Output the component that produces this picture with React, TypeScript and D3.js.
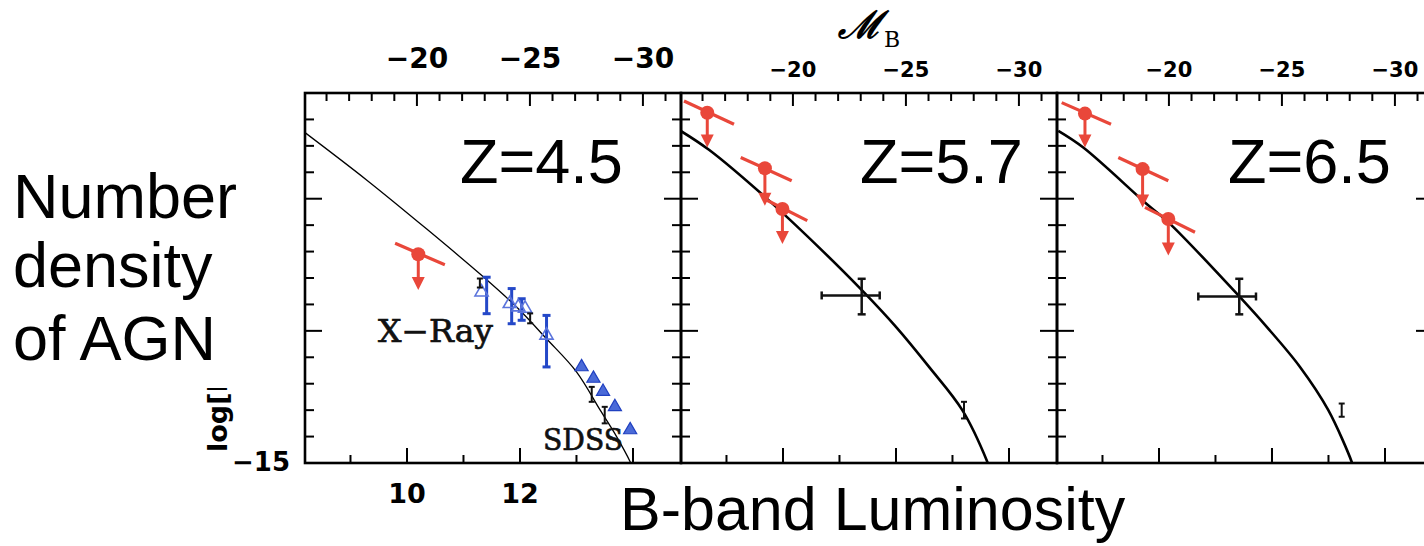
import React from 'react';
import * as d3 from 'd3';

const W = 1424;
const H = 546;
const PANEL_W = 376;
const TOP = 93;
const BOTTOM = 463;
const RED = '#e9473a';
const BLUE = '#2448c8';

// panels: redshift labels
const zLabels = ['Z=4.5', 'Z=5.7', 'Z=6.5'];

// axis ticks (log L along bottom, M_B along top, log phi on the side)
const logLTicks = [9, 10, 11, 12, 13, 14];
const logLLabels = [10, 12];
const mbTicks = d3.range(-16, -32, -1);
const mbLabels = [-20, -25, -30];
const phiTicks = [-15, -14.8, -14.6, -14.4, -14.2, -14, -13.8, -13.6, -13.4, -13.2, -13, -12.8, -12.6, -12.4];

// model curves [logL, logPhi]
const curveZ45 = [[8.195, -12.5], [9.29, -12.86], [10.35, -13.23], [11.32, -13.58], [11.94, -13.82], [12.47, -14.06], [13.0, -14.31], [13.42, -14.6], [13.71, -14.8], [13.95, -14.99], [13.98, -15.02]];
const curveZ57 = [[8.19, -12.487], [8.69, -12.63], [9.69, -12.99], [10.64, -13.37], [11.4, -13.694], [12.0, -13.97], [12.585, -14.273], [13.174, -14.6], [13.616, -14.99], [13.64, -15.02]];
const curveZ65 = [[8.218, -12.487], [8.66, -12.613], [9.783, -13.04], [10.195, -13.19], [11.434, -13.745], [11.907, -13.97], [12.496, -14.273], [12.997, -14.6], [13.41, -14.99], [13.43, -15.02]];
const curves = [curveZ45, curveZ57, curveZ65];

// red upper limits: dot, slanted bar ends, arrow tip
const limitsZ45 = [
  { x: 10.2, y: -13.42, x0: 9.79, y0: -13.337, x1: 10.67, y1: -13.5, tip: -13.69 },
];
const limitsZ57 = [
  { x: 8.66, y: -12.35, x0: 8.248, y0: -12.26, x1: 9.133, y1: -12.436, tip: -12.613 },
  { x: 9.68, y: -12.77, x0: 9.252, y0: -12.688, x1: 10.154, y1: -12.864, tip: -13.053 },
  { x: 9.99, y: -13.078, x0: 9.664, y0: -13.0, x1: 10.43, y1: -13.166, tip: -13.342 },
];
const limitsZ65 = [
  { x: 8.69, y: -12.356, x0: 8.278, y0: -12.273, x1: 9.151, y1: -12.436, tip: -12.613 },
  { x: 9.71, y: -12.776, x0: 9.28, y0: -12.688, x1: 10.165, y1: -12.864, tip: -13.066 },
  { x: 10.165, y: -13.153, x0: 9.752, y0: -13.066, x1: 10.637, y1: -13.254, tip: -13.43 },
];
const limits = [limitsZ45, limitsZ57, limitsZ65];

// z=4.5 survey points
const blueBars = [
  { x: 11.41, lo: -13.87, hi: -13.594 },
  { x: 11.853, lo: -13.946, hi: -13.68 },
  { x: 12.03, lo: -13.92, hi: -13.757 },
  { x: 12.47, lo: -14.273, hi: -13.883 },
];
const openTriangles = [[11.32, -13.707], [11.82, -13.795], [11.97, -13.82], [12.09, -13.83], [12.47, -14.034]];
const sdssTriangles = [[13.09, -14.273], [13.3, -14.36], [13.47, -14.46], [13.68, -14.575], [13.95, -14.75]];
const smallBarsZ45 = [
  { x: 11.29, lo: -13.672, hi: -13.604 },
  { x: 12.18, lo: -13.943, hi: -13.868 },
  { x: 13.27, lo: -14.537, hi: -14.424 },
  { x: 13.5, lo: -14.7, hi: -14.575 },
];
const smallBarsZ57 = [{ x: 13.204, lo: -14.663, hi: -14.537 }];
const smallBarsZ65 = [{ x: 13.234, lo: -14.65, hi: -14.55 }];
const smallBars = [smallBarsZ45, smallBarsZ57, smallBarsZ65];

// black crosses at z=5.7 and z=6.5
const crosses = [
  null,
  { x: 11.393, y: -13.732, xlo: 10.685, xhi: 11.712, ylo: -13.875, yhi: -13.606 },
  { x: 11.421, y: -13.74, xlo: 10.696, xhi: 11.717, ylo: -13.875, yhi: -13.606 },
];

const panelLefts = [305, 681, 1057];
const zLabelX = [460, 860, 1228];

const xScale = d3.scaleLinear().domain([8.195, 14.85]).range([0, PANEL_W]);
const yScale = d3.scaleLinear().domain([-15, -12.2]).range([BOTTOM, TOP]);
// M_B = 5.44 - 2.5 logL
const mScale = d3.scaleLinear().domain([5.44 - 2.5 * 8.195, 5.44 - 2.5 * 14.85]).range([0, PANEL_W]);

const line = d3.line<number[]>().x(d => xScale(d[0])).y(d => yScale(d[1])).curve(d3.curveCatmullRom.alpha(0.5));
const tri = d3.symbol().type(d3.symbolTriangle).size(75);

const Panel = ({ i }: { i: number }) => {
  const left = panelLefts[i];
  const big = i === 0;
  return (
    <g transform={`translate(${left},0)`}>
      <defs>
        <clipPath id={`clip${i}`}>
          <rect x={0} y={TOP} width={PANEL_W} height={BOTTOM - TOP} />
        </clipPath>
      </defs>
      {/* ticks */}
      {logLTicks.map(t => {
        const len = t % 2 === 0 ? 15 : 8;
        return <line key={'b' + t} x1={xScale(t)} x2={xScale(t)} y1={BOTTOM} y2={BOTTOM - len} stroke="#000" strokeWidth={2} />;
      })}
      {mbTicks.map(t => {
        const len = t % 5 === 0 ? 13 : 8;
        return <line key={'t' + t} x1={mScale(t)} x2={mScale(t)} y1={TOP} y2={TOP + len} stroke="#000" strokeWidth={2} />;
      })}
      {phiTicks.map(t => {
        const major = Math.abs(t - Math.round(t)) < 1e-6;
        const len = major ? 17 : 9;
        return (
          <g key={'p' + t}>
            <line x1={0} x2={len} y1={yScale(t)} y2={yScale(t)} stroke="#000" strokeWidth={2} />
            <line x1={PANEL_W} x2={PANEL_W - len} y1={yScale(t)} y2={yScale(t)} stroke="#000" strokeWidth={2} />
          </g>
        );
      })}
      {/* top labels */}
      {mbLabels.map(t => (
        <text key={'tl' + t} x={mScale(t)} y={big ? 68 : 77} textAnchor="middle"
          fontFamily="DejaVu Sans" fontWeight="bold" fontSize={big ? 28 : 21}>{'\u2212' + Math.abs(t)}</text>
      ))}
      {big && logLLabels.map(t => (
        <text key={'bl' + t} x={xScale(t)} y={503} textAnchor="middle"
          fontFamily="DejaVu Sans" fontWeight="bold" fontSize={27}>{t}</text>
      ))}
      <g clipPath={`url(#clip${i})`}>
        <path d={line(curves[i]) || ''} fill="none" stroke="#000" strokeWidth={big ? 1.3 : 2.6} />
        {big && blueBars.map((b, k) => (
          <g key={'bb' + k} stroke={BLUE} strokeWidth={3}>
            <line x1={xScale(b.x)} x2={xScale(b.x)} y1={yScale(b.lo)} y2={yScale(b.hi)} />
            <line x1={xScale(b.x) - 4} x2={xScale(b.x) + 4} y1={yScale(b.lo)} y2={yScale(b.lo)} />
            <line x1={xScale(b.x) - 4} x2={xScale(b.x) + 4} y1={yScale(b.hi)} y2={yScale(b.hi)} />
          </g>
        ))}
        {big && openTriangles.map((d, k) => (
          <path key={'ot' + k} d={tri() || ''} transform={`translate(${xScale(d[0])},${yScale(d[1])})`}
            fill="none" stroke="#5b74dc" strokeWidth={1.6} />
        ))}
        {big && sdssTriangles.map((d, k) => (
          <path key={'st' + k} d={tri() || ''} transform={`translate(${xScale(d[0])},${yScale(d[1])})`}
            fill="#4a6ad8" stroke="#2040c0" strokeWidth={1.2} />
        ))}
        {smallBars[i].map((b, k) => (
          <g key={'sb' + k} stroke="#111" strokeWidth={2}>
            <line x1={xScale(b.x)} x2={xScale(b.x)} y1={yScale(b.lo)} y2={yScale(b.hi)} />
            <line x1={xScale(b.x) - 3} x2={xScale(b.x) + 3} y1={yScale(b.lo)} y2={yScale(b.lo)} />
            <line x1={xScale(b.x) - 3} x2={xScale(b.x) + 3} y1={yScale(b.hi)} y2={yScale(b.hi)} />
          </g>
        ))}
        {crosses[i] && (() => {
          const c = crosses[i]!;
          const cx = xScale(c.x), cy = yScale(c.y);
          return (
            <g stroke="#111" strokeWidth={2.5}>
              <line x1={xScale(c.xlo)} x2={xScale(c.xhi)} y1={cy} y2={cy} />
              <line x1={xScale(c.xlo)} x2={xScale(c.xlo)} y1={cy - 4} y2={cy + 4} />
              <line x1={xScale(c.xhi)} x2={xScale(c.xhi)} y1={cy - 4} y2={cy + 4} />
              <line x1={cx} x2={cx} y1={yScale(c.ylo)} y2={yScale(c.yhi)} />
              <line x1={cx - 4} x2={cx + 4} y1={yScale(c.ylo)} y2={yScale(c.ylo)} />
              <line x1={cx - 4} x2={cx + 4} y1={yScale(c.yhi)} y2={yScale(c.yhi)} />
            </g>
          );
        })()}
        {limits[i].map((l, k) => {
          const cx = xScale(l.x), cy = yScale(l.y), ty = yScale(l.tip);
          return (
            <g key={'lim' + k}>
              <line x1={xScale(l.x0)} y1={yScale(l.y0)} x2={xScale(l.x1)} y2={yScale(l.y1)} stroke={RED} strokeWidth={3.2} />
              <line x1={cx} x2={cx} y1={cy} y2={ty - 8} stroke={RED} strokeWidth={3} />
              <path d={`M${cx - 6.5},${ty - 13} L${cx + 6.5},${ty - 13} L${cx},${ty} Z`} fill={RED} />
              <circle cx={cx} cy={cy} r={7} fill={RED} />
            </g>
          );
        })}
      </g>
      {big && (
        <g fontFamily="DejaVu Serif" fill="#111" stroke="#111" strokeWidth={0.7}>
          <text x={73} y={342} fontSize={31} textLength={115} lengthAdjust="spacingAndGlyphs">X{'\u2212'}Ray</text>
          <text x={238} y={450} fontSize={30} textLength={80} lengthAdjust="spacingAndGlyphs">SDSS</text>
        </g>
      )}
      <rect x={0} y={TOP} width={PANEL_W} height={BOTTOM - TOP} fill="none" stroke="#000" strokeWidth={2.6} />
      <text x={zLabelX[i] - left} y={183} fontFamily="Liberation Sans, Arial" fontSize={63}>{zLabels[i]}</text>
    </g>
  );
};

export default function App() {
  return (
    <svg width={W} height={H} style={{ position: 'absolute', left: 0, top: 0, background: '#fff' }}>
      <rect width={W} height={H} fill="#fff" />
      {[0, 1, 2].map(i => <Panel key={i} i={i} />)}
      {/* M_B axis title */}
      <text x={838} y={38} fontFamily="DejaVu Serif" fontStyle="italic" fontWeight="bold" fontSize={38}>
        {'\u2133'}
      </text>
      <text x={884} y={47} fontFamily="DejaVu Serif" fontSize={22}>B</text>
      {/* original y axis label, partly covered */}
      <defs>
        <clipPath id="ylab">
          <rect x={190} y={388} width={60} height={72} />
        </clipPath>
      </defs>
      <g clipPath="url(#ylab)">
        <text transform="translate(227,452) rotate(-90)" fontFamily="DejaVu Sans" fontWeight="bold" fontSize={27}>log[N</text>
      </g>
      <text x={290} y={471} textAnchor="end" fontFamily="DejaVu Sans" fontWeight="bold" fontSize={26}>{'\u2212'}15</text>
      {/* overlay labels */}
      <g fontFamily="Liberation Sans, Arial" fontSize={63} fill="#000">
        <text x={13} y={218}>Number</text>
        <text x={13} y={287}>density</text>
        <text x={13} y={360}>of AGN</text>
      </g>
      <text x={620} y={530} fontFamily="Liberation Sans, Arial" fontSize={61}>B-band Luminosity</text>
    </svg>
  );
}
